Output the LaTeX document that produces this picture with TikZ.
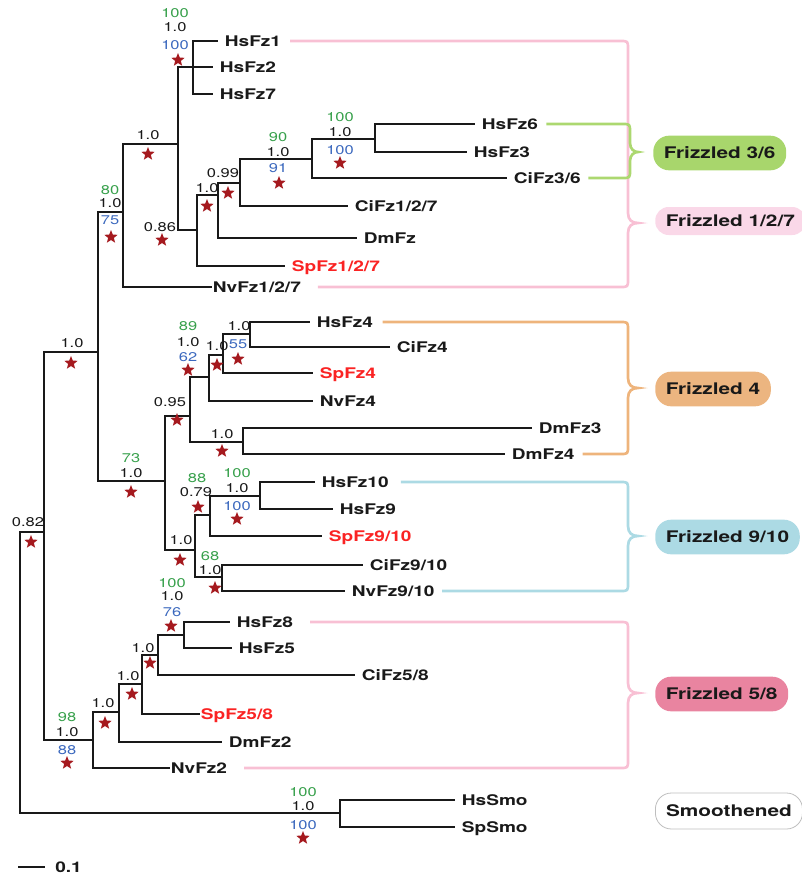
\documentclass[tikz,border=0pt]{standalone}
\usepackage{fontspec}
\setmainfont[FakeStretch=1.3]{TeX Gyre Heros}
\usepackage{tikz}
\usetikzlibrary{shapes.geometric}
\usepackage{xcolor}

\definecolor{treeblack}{RGB}{25,25,25}
\definecolor{leafred}{RGB}{250,35,35}
\definecolor{suppgreen}{RGB}{55,160,75}
\definecolor{suppblue}{RGB}{60,105,190}
\definecolor{starred}{RGB}{165,25,30}
\definecolor{pinkline}{RGB}{248,192,212}
\definecolor{greenline}{RGB}{172,216,112}
\definecolor{orangeline}{RGB}{238,180,124}
\definecolor{blueline}{RGB}{172,218,228}
\definecolor{pinkfill}{RGB}{250,216,232}
\definecolor{rosefill}{RGB}{233,132,160}
\definecolor{greenfill}{RGB}{168,214,108}
\definecolor{orangefill}{RGB}{236,181,128}
\definecolor{bluefill}{RGB}{172,218,228}
\definecolor{smoborder}{RGB}{190,190,190}

\begin{document}
\begin{tikzpicture}[x=0.75pt,y=0.75pt,yscale=-1,xscale=1,
  branch/.style={line width=1.5pt, draw=treeblack},
  leaf/.style={anchor=west, inner xsep=5pt, inner ysep=0pt, text height=8pt, text depth=0pt, font=\fontsize{11}{11}\selectfont\bfseries, text=treeblack},
  redleaf/.style={leaf, text=leafred},
  supp/.style={inner sep=0pt, text height=6.8pt, text depth=0pt, font=\fontsize{9.5}{9.5}\selectfont, text=treeblack},
  suppg/.style={supp, text=suppgreen},
  suppb/.style={supp, text=suppblue},
  redstar/.style={star, star points=5, star point ratio=2.3, fill=starred, inner sep=0pt, minimum size=10.5pt},
  brace/.style={line width=2pt},
  fzlabel/.style={anchor=west, rounded corners=12pt, minimum height=26pt, inner xsep=8pt, font=\fontsize{12}{12}\selectfont\bfseries, text=treeblack}]
\useasboundingbox (0,0) rectangle (801,879);

%Internal nodes
\coordinate (nRoot) at (20,672);
\coordinate (n44) at (44,532);
\coordinate (n98) at (98,352);
\coordinate (n123) at (123,212);
\coordinate (n178) at (178,144);
\coordinate (nA) at (193,67);
\coordinate (nB) at (197,230);
\coordinate (nC) at (218,195);
\coordinate (nD) at (240,183);
\coordinate (nE) at (312,159);
\coordinate (nF) at (375,139);
\coordinate (n165) at (165,481);
\coordinate (n190) at (190,416);
\coordinate (n209) at (209,377);
\coordinate (n223) at (223,355);
\coordinate (n250) at (250,334);
\coordinate (n243) at (243,442);
\coordinate (n195) at (195,550);
\coordinate (n210) at (210,515);
\coordinate (n260) at (260,496);
\coordinate (n222) at (222,577);
\coordinate (n93) at (93,740);
\coordinate (n119) at (119,712);
\coordinate (n142) at (142,684);
\coordinate (n158) at (158,655);
\coordinate (n184) at (184,635);
\coordinate (nSmo) at (340,813);

% Leaf Nodes
\node[leaf] (HsFz1) at (218,41) {HsFz1};
\node[leaf] (HsFz2) at (213,67) {HsFz2};
\node[leaf] (HsFz7) at (213,94) {HsFz7};
\node[leaf] (HsFz6) at (475,124) {HsFz6};
\node[leaf] (HsFz3) at (467,152) {HsFz3};
\node[leaf] (CiFz36) at (507,178) {CiFz3/6};
\node[leaf] (CiFz127) at (348,206) {CiFz1/2/7};
\node[leaf] (DmFz) at (357,238) {DmFz};
\node[redleaf] (SpFz127) at (285,266) {SpFz1/2/7};
\node[leaf, inner xsep=0.5pt] (NvFz127) at (212,287) {NvFz1/2/7};
\node[leaf] (HsFz4) at (310,322) {HsFz4};
\node[leaf] (CiFz4) at (390,347) {CiFz4};
\node[redleaf] (SpFz4) at (313,373) {SpFz4};
\node[leaf] (NvFz4) at (313,401) {NvFz4};
\node[leaf] (DmFz3) at (532,428) {DmFz3};
\node[leaf] (DmFz4) at (505,454) {DmFz4};
\node[leaf] (HsFz10) at (315,482) {HsFz10};
\node[leaf] (HsFz9) at (333,509) {HsFz9};
\node[redleaf] (SpFz910) at (322,536) {SpFz9/10};
\node[leaf] (CiFz910) at (363,565) {CiFz9/10};
\node[leaf] (NvFz910) at (345,591) {NvFz9/10};
\node[leaf] (HsFz8) at (230,622) {HsFz8};
\node[leaf] (HsFz5) at (232,648) {HsFz5};
\node[leaf] (CiFz58) at (355,675) {CiFz5/8};
\node[redleaf, inner xsep=0.5pt] (SpFz58) at (200,714) {SpFz5/8};
\node[leaf] (DmFz2) at (222,742) {DmFz2};
\node[leaf, inner xsep=0.5pt] (NvFz2) at (170,768) {NvFz2};
\node[leaf] (HsSmo) at (455,800) {HsSmo};
\node[leaf] (SpSmo) at (455,827) {SpSmo};

%Branches
\draw[branch] (nRoot) |- (n44);  \draw[branch] (nRoot) |- (nSmo);
\draw[branch] (n44) |- (n98);  \draw[branch] (n44) |- (n93);
\draw[branch] (n98) |- (n123);  \draw[branch] (n98) |- (n165);
\draw[branch] (n123) |- (n178);  \draw[branch] (n123) |- (NvFz127.west);
\draw[branch] (n178) |- (nA);  \draw[branch] (n178) |- (nB);
\draw[branch] (nA) |- (HsFz1.west);  \draw[branch] (nA) |- (HsFz2.west);  \draw[branch] (nA) |- (HsFz7.west);
\draw[branch] (nB) |- (nC);  \draw[branch] (nB) |- (SpFz127.west);
\draw[branch] (nC) |- (nD);  \draw[branch] (nC) |- (DmFz.west);
\draw[branch] (nD) |- (nE);  \draw[branch] (nD) |- (CiFz127.west);
\draw[branch] (nE) |- (nF);  \draw[branch] (nE) |- (CiFz36.west);
\draw[branch] (nF) |- (HsFz6.west);  \draw[branch] (nF) |- (HsFz3.west);
\draw[branch] (n165) |- (n190);  \draw[branch] (n165) |- (n195);
\draw[branch] (n190) |- (n209);  \draw[branch] (n190) |- (n243);
\draw[branch] (n209) |- (n223);  \draw[branch] (n209) |- (NvFz4.west);
\draw[branch] (n223) |- (n250);  \draw[branch] (n223) |- (SpFz4.west);
\draw[branch] (n250) |- (HsFz4.west);  \draw[branch] (n250) |- (CiFz4.west);
\draw[branch] (n243) |- (DmFz3.west);  \draw[branch] (n243) |- (DmFz4.west);
\draw[branch] (n195) |- (n210);  \draw[branch] (n195) |- (n222);
\draw[branch] (n210) |- (n260);  \draw[branch] (n210) |- (SpFz910.west);
\draw[branch] (n260) |- (HsFz10.west);  \draw[branch] (n260) |- (HsFz9.west);
\draw[branch] (n222) |- (CiFz910.west);  \draw[branch] (n222) |- (NvFz910.west);
\draw[branch] (n93) |- (n119);  \draw[branch] (n93) |- (NvFz2.west);
\draw[branch] (n119) |- (n142);  \draw[branch] (n119) |- (DmFz2.west);
\draw[branch] (n142) |- (n158);  \draw[branch] (n142) |- (SpFz58.west);
\draw[branch] (n158) |- (n184);  \draw[branch] (n158) |- (CiFz58.west);
\draw[branch] (n184) |- (HsFz8.west);  \draw[branch] (n184) |- (HsFz5.west);
\draw[branch] (nSmo) |- (HsSmo.west);  \draw[branch] (nSmo) |- (SpSmo.west);

% Support values and stars
\node[suppg] (gA) at (175,13) {100};  \node[supp] (kA) at (175,27) {1.0};  \node[suppb] (bA) at (175,45) {100};  \node[redstar] (sA) at (178,60) {};
\node[supp] (k178) at (148,135) {1.0};  \node[redstar] (s178) at (148,154) {};
\node[supp] (kB) at (160,227) {0.86};  \node[redstar] (sB) at (162,240) {};
\node[supp] (kC) at (207,188) {1.0};  \node[redstar] (sC) at (207,206) {};
\node[supp] (kD) at (223,173) {0.99};  \node[redstar] (sD) at (228,193) {};
\node[suppg] (gE) at (278,137) {90};  \node[supp] (kE) at (278,152) {1.0};  \node[suppb] (bE) at (278,168) {91};  \node[redstar] (sE) at (279,183) {};
\node[suppg] (gF) at (340,117) {100};  \node[supp] (kF) at (340,132) {1.0};  \node[suppb] (bF) at (340,150) {100};  \node[redstar] (sF) at (340,163) {};
\node[suppg] (g123) at (110,190) {80};  \node[supp] (k123) at (110,203) {1.0};  \node[suppb] (b123) at (110,220) {75};  \node[redstar] (s123) at (111,237) {};
\node[supp] (k98) at (72,343) {1.0};  \node[redstar] (s98) at (71,363) {};
\node[supp] (k44) at (28,522) {0.82};  \node[redstar] (s44) at (31,542) {};
\node[suppg] (g165) at (131,458) {73};  \node[supp] (k165) at (131,473) {1.0};  \node[redstar] (s165) at (131,492) {};
\node[supp] (k190) at (170,402) {0.95};  \node[redstar] (s190) at (177,420) {};
\node[suppg] (g209) at (188,326) {89};  \node[supp] (k209) at (188,342) {1.0};  \node[suppb] (b209) at (188,357) {62};  \node[redstar] (s209) at (188,370) {};
\node[supp] (k223) at (217,346) {1.0};  \node[redstar] (s223) at (217,365) {};
\node[supp] (k250) at (239,326) {1.0};  \node[suppb] (b250) at (238,344) {55};  \node[redstar] (s250) at (238,359) {};
\node[supp] (k243) at (222,434) {1.0};  \node[redstar] (s243) at (222,451) {};
\node[supp] (k195) at (181,540) {1.0};  \node[redstar] (s195) at (180,560) {};
\node[suppg] (g210) at (197,478) {88};  \node[supp] (k210) at (196,492) {0.79};  \node[redstar] (s210) at (198,507) {};
\node[suppg] (g260) at (237,473) {100};  \node[supp] (k260) at (237,488) {1.0};  \node[suppb] (b260) at (237,506) {100};  \node[redstar] (s260) at (237,519) {};
\node[suppg] (g222) at (210,556) {68};  \node[supp] (k222) at (210,570) {1.0};  \node[redstar] (s222) at (215,588) {};
\node[suppg] (g184) at (172,583) {100};  \node[supp] (k184) at (172,596) {1.0};  \node[suppb] (b184) at (172,612) {76};  \node[redstar] (s184) at (171,626) {};
\node[supp] (k158) at (143,648) {1.0};  \node[redstar] (s158) at (150,663) {};
\node[supp] (k142) at (128,676) {1.0};  \node[redstar] (s142) at (132,694) {};
\node[supp] (k119) at (103,703) {1.0};  \node[redstar] (s119) at (105,723) {};
\node[suppg] (g93) at (67,717) {98};  \node[supp] (k93) at (67,732) {1.0};  \node[suppb] (b93) at (67,750) {88};  \node[redstar] (s93) at (67,763) {};
\node[suppg] (gSmo) at (303,792) {100};  \node[supp] (kSmo) at (303,806) {1.0};  \node[suppb] (bSmo) at (303,825) {100};  \node[redstar] (sSmo) at (303,838) {};

%Shape: Brace Frizzled 1/2/7
\draw[brace, pinkline] ([xshift=1.5pt]HsFz1.east) -- (620,41) .. controls (628,41) .. (628,49) -- (628,213) .. controls (628,220) and (632,223) .. (638,223) .. controls (632,223) and (628,226) .. (628,233) -- (628,279) .. controls (628,287) .. (620,287) -- ([xshift=12pt]NvFz127.east);
%Shape: Brace Frizzled 3/6
\draw[brace, greenline] ([xshift=1pt]HsFz6.east) -- (622,124) .. controls (630,124) .. (630,132) -- (630,143) .. controls (630,149) and (634,152) .. (638,152) .. controls (634,152) and (630,155) .. (630,161) -- (630,170) .. controls (630,178) .. (622,178) -- ([xshift=0.5pt]CiFz36.east);
%Shape: Brace Frizzled 4
\draw[brace, orangeline] ([xshift=2pt]HsFz4.east) -- (620,322) .. controls (628,322) .. (628,330) -- (628,378) .. controls (628,385) and (632,388) .. (638,388) .. controls (632,388) and (628,391) .. (628,398) -- (628,446) .. controls (628,454) .. (620,454) -- ([xshift=1pt]DmFz4.east);
%Shape: Brace Frizzled 9/10
\draw[brace, blueline] ([xshift=4pt]HsFz10.east) -- (620,482) .. controls (628,482) .. (628,490) -- (628,526) .. controls (628,533) and (632,536) .. (638,536) .. controls (632,536) and (628,539) .. (628,546) -- (628,583) .. controls (628,591) .. (620,591) -- ([xshift=0.5pt]NvFz910.east);
%Shape: Brace Frizzled 5/8
\draw[brace, pinkline] ([xshift=7.5pt]HsFz8.east) -- (620,622) .. controls (628,622) .. (628,630) -- (628,683) .. controls (628,690) and (632,693) .. (638,693) .. controls (632,693) and (628,696) .. (628,703) -- (628,760) .. controls (628,768) .. (620,768) -- ([xshift=12pt]NvFz2.east);

% Text Node
\node[fzlabel, fill=greenfill] (f36) at (653,153) {Frizzled 3/6};
\node[fzlabel, fill=pinkfill, minimum height=21pt, rounded corners=10pt] (f127) at (655,221) {Frizzled 1/2/7};
\node[fzlabel, fill=orangefill] (f4) at (655,389) {Frizzled 4};
\node[fzlabel, fill=bluefill] (f910) at (655,537) {Frizzled 9/10};
\node[fzlabel, fill=rosefill] (f58) at (655,694) {Frizzled 5/8};
\node[fzlabel, fill=white, draw=smoborder, line width=0.6pt, minimum height=27pt] (smo) at (655,811) {Smoothened};

%Scale bar
\coordinate (sb1) at (18,867);
\coordinate (sb2) at (45,867);
\draw[branch] (sb1) -- (sb2);
\node[leaf, inner xsep=0pt] (sblabel) at (55,867) {0.1};

\end{tikzpicture}
\end{document}
